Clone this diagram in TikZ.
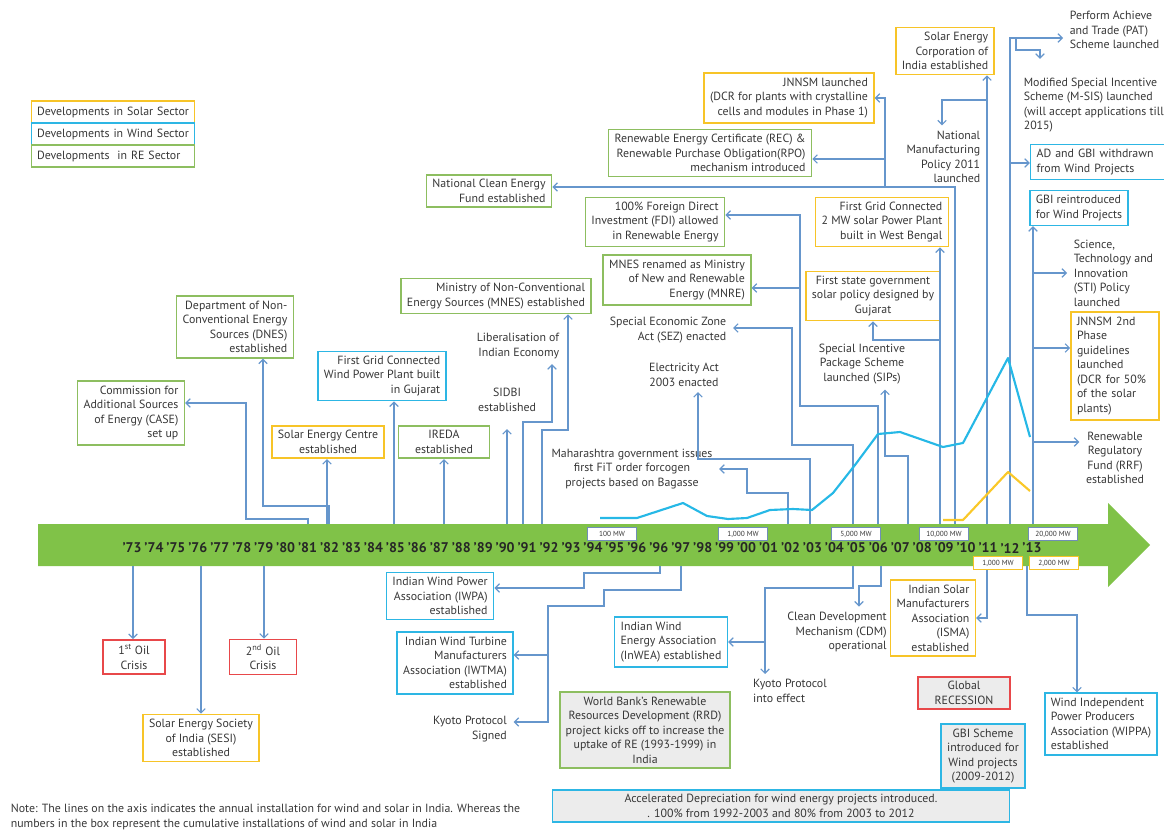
\documentclass[tikz,border=0pt]{standalone}
\usepackage{fontspec}
\setmainfont{PT Sans}
\usetikzlibrary{arrows.meta}

\definecolor{solarc}{RGB}{247,196,40}
\definecolor{windc}{RGB}{45,182,228}
\definecolor{regreen}{RGB}{141,190,96}
\definecolor{redc}{RGB}{232,72,74}
\definecolor{linkc}{RGB}{102,150,204}
\definecolor{bandc}{RGB}{128,194,72}
\definecolor{mwc}{RGB}{112,142,182}
\definecolor{windcurve}{RGB}{38,184,230}
\definecolor{solarcurve}{RGB}{250,200,40}
\definecolor{txtc}{RGB}{55,55,55}
\definecolor{shadec}{RGB}{236,236,236}

\newcommand{\evtfont}{\fontsize{8.9}{10.9}\selectfont}
\newcommand{\yrfont}{\fontsize{10.5}{12}\selectfont\bfseries}
\newcommand{\mwfont}{\fontsize{5.5}{6}\selectfont}

\tikzset{every picture/.style={line width=0.75pt}}

\begin{document}
\begin{tikzpicture}[x=0.75pt,y=0.75pt,yscale=-1,xscale=1,
  evt/.style={font=\evtfont, text=txtc, inner xsep=4.5pt, inner ysep=3.5pt, line width=1.2pt},
  solarbox/.style={evt, draw=solarc},
  windbox/.style={evt, draw=windc},
  rebox/.style={evt, draw=regreen},
  crisisbox/.style={evt, draw=redc},
  greyed/.style={fill=shadec},
  lbl/.style={evt},
  legendbox/.style={evt, text width=114pt, align=left, minimum height=16.5pt, inner xsep=4pt, inner ysep=2pt},
  link/.style={draw=linkc, line width=0.9pt, -{Straight Barb[length=3.2pt,width=6.4pt]}},
  mwbox/.style={draw=#1, line width=0.9pt, fill=white, font=\mwfont, text=txtc, minimum width=37pt, minimum height=10pt, inner sep=1pt}
]
\useasboundingbox (0,0) rectangle (1164,831);

%Shape: Arrow band
\fill[bandc] (38,524) -- (1108,524) -- (1108,503) -- (1150,545) -- (1108,587) -- (1108,566) -- (38,566) -- cycle;

% years on the band
\foreach \yr [count=\i from 0] in {73,74,75,76,77,78,79,80,81,82,83,84,85,86,87,88,89,90,91,92,93,94,95,96,96,97,98,99,00,01,02,03,04,05,06,07,08,09,10,11,12,13}
  \node[font=\yrfont, text=black!85, inner sep=0pt] (yr\i) at (132+21.95*\i,548) {'\yr};

% roots of the connectors on the band
\foreach \n/\x in {case/308,dnes/329,sec/327,fgwind/394,ireda/444,sidbi/507,liberal/523,mnes/542,maha/788,elec/810,sez/853,mnre/878,sips/908,twomw/940,ncef/955,seci/987,pat/1010,gbire/1033}
  \coordinate (up-\n) at (\x,524);
\foreach \n/\x in {oilone/133,sesi/201,oiltwo/264,iwpa/660,iwtma/681,kyotoe/853,cdm/881,isma/987,wippa/1027}
  \coordinate (dn-\n) at (\x,566);

% Legend
\node[legendbox, draw=solarc] (lgsolar) at (113,112) {Developments in Solar Sector};
\node[legendbox, draw=windc] (lgwind) at (113,134) {Developments in Wind Sector};
\node[legendbox, draw=regreen] (lgre) at (113,156) {Developments\ \ in RE Sector};

% Text Node -- above the band
\node[rebox, align=right] (case) at (131,413) {Commission for\\Additional Sources\\of Energy (CASE)\\set up};
\node[rebox, align=right] (dnes) at (235,327) {Department of Non-\\Conventional Energy\\Sources (DNES)\\established};
\node[solarbox, align=center] (sec) at (328,442) {Solar Energy Centre\\established};
\node[windbox, align=right] (fgwind) at (382,376) {First Grid Connected\\Wind Power Plant built\\in Gujarat};
\node[rebox, align=center, minimum width=68pt] (ireda) at (444,442) {IREDA\\established};
\node[lbl, align=center] (sidbi) at (507,400) {SIDBI\\established};
\node[lbl, align=right] (liberal) at (518,346) {Liberalisation of\\Indian Economy};
\node[rebox, align=right] (mnes) at (496,296) {Ministry of Non-Conventional\\Energy Sources (MNES) established};
\node[lbl, align=center] (maha) at (632,469) {Maharashtra government issues\\first FiT order forcogen\\projects based on Bagasse};
\node[lbl, align=center] (elec) at (684,375) {Electricity Act\\2003 enacted};
\node[lbl, align=right] (sez) at (668,330) {Special Economic Zone\\Act (SEZ) enacted};
\node[lbl, align=center] (sips) at (862,364) {Special Incentive\\Package Scheme\\launched (SIPs)};
\node[solarbox, align=center] (gujarat) at (873,296) {First state government\\solar policy designed by\\Gujarat};
\node[rebox, align=right] (mnre) at (677,280) {MNES renamed as Ministry\\of New and Renewable\\Energy (MNRE)};
\node[rebox, align=right] (fdi) at (655,222) {100\% Foreign Direct\\Investment (FDI) allowed\\in Renewable Energy};
\node[rebox, align=right] (ncef) at (489,191) {National Clean Energy\\Fund established};
\node[rebox, align=right] (rec) at (710,153) {Renewable Energy Certificate (REC) \&\\Renewable Purchase Obligation(RPO)\\mechanism introduced};
\node[solarbox, align=right] (jnnsm) at (789,98) {JNNSM launched\\(DCR for plants with crystalline\\cells and modules in Phase 1)};
\node[solarbox, align=right] (twomw) at (882,222) {First Grid Connected\\2 MW solar Power Plant\\built in West Bengal};
\node[solarbox, align=right] (seci) at (945,51) {Solar Energy\\Corporation of\\India established};
\node[lbl, align=right, anchor=east] (nmp) at (987,157) {National\\Manufacturing\\Policy 2011\\launched};
\node[lbl, align=left, anchor=west] (pat) at (1063,30) {Perform Achieve\\and Trade (PAT)\\Scheme launched};
\node[lbl, align=left, anchor=west] (msis) at (1017,105) {Modified Special Incentive\\Scheme (M-SIS) launched\\(will accept applications till\\2015)};
\node[windbox, align=left, text width=92pt] (adgbi) at (1098,162) {AD and GBI withdrawn\\from Wind Projects};
\node[windbox, align=left] (gbire) at (1079,208) {GBI reintroduced\\for Wind Projects};
\node[lbl, align=left, anchor=west] (sti) at (1067,273) {Science,\\Technology and\\Innovation\\(STI) Policy\\launched};
\node[solarbox, align=left, text width=57pt] (jnnsm2) at (1115,366) {JNNSM 2nd\\Phase\\guidelines\\launched\\(DCR for 50\%\\of the solar\\plants)};
\node[lbl, align=center] (rrf) at (1115,458) {Renewable\\Regulatory\\Fund (RRF)\\established};

% Text Node -- below the band
\node[crisisbox, align=center, minimum width=46.5pt] (oilone) at (134,657) {1\textsuperscript{st} Oil\\Crisis};
\node[crisisbox, align=center, minimum width=50pt] (oiltwo) at (263,657) {2\textsuperscript{nd} Oil\\Crisis};
\node[solarbox, align=center] (sesi) at (201,738) {Solar Energy Society\\of India (SESI)\\established};
\node[windbox, align=right] (iwpa) at (440,596) {Indian Wind Power\\Association (IWPA)\\established};
\node[windbox, align=right] (iwtma) at (455,663) {Indian Wind Turbine\\Manufacturers\\Association (IWTMA)\\established};
\node[lbl, align=right] (kyotos) at (470,729) {Kyoto Protocol\\Signed};
\node[rebox, greyed, align=center] (wbank) at (645,730) {World Bank's Renewable\\Resources Development (RRD)\\project kicks off to increase the\\uptake of RE (1993-1999) in\\India};
\node[windbox, align=left] (inwea) at (671,642) {Indian Wind\\Energy Association\\(InWEA) established};
\node[lbl, align=left] (kyotoe) at (790,691) {Kyoto Protocol\\into effect};
\node[lbl, align=right] (cdm) at (837,632) {Clean Development\\Mechanism (CDM)\\operational};
\node[solarbox, align=right] (isma) at (933,618) {Indian Solar\\Manufacturers\\Association\\(ISMA)\\established};
\node[crisisbox, greyed, align=center, minimum width=69pt] (recess) at (964,693) {Global\\RECESSION};
\node[windbox, greyed, align=center] (gbisch) at (983,756) {GBI Scheme\\introduced for\\Wind projects\\(2009-2012)};
\node[windbox, align=left] (wippa) at (1101,724) {Wind Independent\\Power Producers\\Association (WIPPA)\\established};
\node[windbox, greyed, align=center, minimum width=343pt] (accdep) at (781,806) {Accelerated Depreciation for wind energy projects introduced.\\. 100\% from 1992-2003 and 80\% from 2003 to 2012};
\node[lbl, align=left, anchor=west] (note) at (4,817) {Note: The lines on the axis indicates the annual installation for wind and solar in India. Whereas the\\numbers in the box represent the cumulative installations of wind and solar in India};

% Connectors -- above the band
\draw[link] (up-case) -- ++(0,-5) -| (246,403) -- (case.east |- 0,403);
\draw[link] (up-dnes) |- (263,506) -- (dnes.south -| 263,0);
\draw[link] (up-sec) -- (sec.south -| up-sec);
\draw[link] (up-fgwind) -- (fgwind.south -| up-fgwind);
\draw[link] (up-ireda) -- (ireda.south);
\draw[link, shorten >=9pt] (up-sidbi) -- (sidbi.south -| up-sidbi);
\draw[link] (up-liberal) |- (552,422) -- (liberal.south -| 552,0);
\draw[link] (up-mnes) |- (568,430) -- (mnes.south -| 568,0);
\draw[link] (up-maha) |- (747,493) |- (maha.east |- 0,469);
\draw[link] (up-elec) |- (698,459) -- (elec.south -| 698,0);
\draw[link] (up-sez) |- (792,445) |- (sez.east |- 0,328);
\draw[link] (up-mnre) |- (800,406) -- (800,215) -- (fdi.east |- 0,215);
\draw[link] (800,288) -- (mnre.east |- 0,288);
\draw[link] (up-sips) |- (885,456) -- (sips.south -| 885,0);
\draw[link] (up-twomw) -- (twomw.south -| up-twomw);
\draw[link] (940,340) -| (gujarat.south -| 873,0);
\draw[link] (up-ncef) |- (ncef.east |- 0,187);
\draw[link] (885,187) |- (jnnsm.east |- 0,98);
\draw[link] (885,159) -- (rec.east |- 0,159);
\draw[link] (up-seci) -- (seci.south -| up-seci);
\draw[link] (987,100) -| (nmp.north -| 942,0);
\draw[link] (up-pat) |- (pat.west |- 0,38);
\draw[link, shorten >=10pt] (1016,38) |- (1040,50) -- (msis.north -| 1040,0);
\draw[link] (1010,163) -- (adgbi.west |- 0,163);
\draw[link] (up-gbire) -- (gbire.south -| up-gbire);
\draw[link] (1033,273) -- (sti.west |- 0,273);
\draw[link] (1033,348) -- (jnnsm2.west |- 0,348);
\draw[link] (1033,442) -- (rrf.west |- 0,442);

% Connectors -- below the band
\draw[link] (dn-oilone) -- (oilone.north -| dn-oilone);
\draw[link] (dn-sesi) -- (sesi.north -| dn-sesi);
\draw[link] (dn-oiltwo) -- (oiltwo.north -| dn-oiltwo);
\draw[link] (dn-iwpa) |- (584,573) |- (iwpa.east |- 0,588);
\draw[link] (dn-iwtma) |- (604,590) |- (548,606) |- (iwtma.east |- 0,655);
\draw[link] (548,655) |- (kyotos.east |- 0,722);
\draw[link] (dn-kyotoe) |- (765,588) -- (kyotoe.north -| 765,0);
\draw[link] (765,642) -- (inwea.east |- 0,642);
\draw[link] (dn-cdm) |- (859,586) -- (cdm.north -| 859,0);
\draw[link] (dn-isma) |- (isma.east);
\draw[link] (dn-wippa) |- (1077,615) -- (wippa.north -| 1077,0);

% annual installation lines
\draw[windcurve, line width=1.6pt, line join=round] (600,518) -- (637,518) -- (683,503) -- (707,516) -- (728,519) -- (747,518) -- (770,510) -- (793,509) -- (812,510) -- (833,493) -- (855,465) -- (878,434) -- (900,432) -- (943,447) -- (963,443) -- (1008,358) -- (1030,437);
\draw[solarcurve, line width=1.6pt, line join=round] (943,520) -- (963,520) -- (1008,472) -- (1030,491);

% cumulative installation boxes
\node[mwbox=mwc] (mwa) at (612,534) {100 MW};
\node[mwbox=mwc] (mwb) at (743,534) {1,000 MW};
\node[mwbox=mwc] (mwc) at (856,534) {5,000 MW};
\node[mwbox=mwc] (mwd) at (944,534) {10,000 MW};
\node[mwbox=mwc] (mwe) at (1053,534) {20,000 MW};
\node[mwbox=solarc] (mwf) at (998,563) {1,000 MW};
\node[mwbox=solarc] (mwg) at (1054,563) {2,000 MW};

\end{tikzpicture}
\end{document}
